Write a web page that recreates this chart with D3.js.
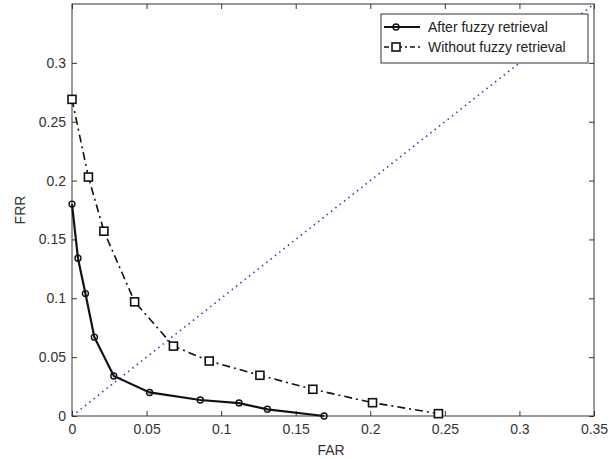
<!DOCTYPE html>
<html>
<head>
<meta charset="utf-8">
<script src="https://cdn.jsdelivr.net/npm/d3@7"></script>
<style>
  html, body { margin: 0; padding: 0; background: #fff; }
  svg { display: block; font-family: "Liberation Sans", Arial, sans-serif; }
</style>
</head>
<body>
<svg id="chart" width="609" height="459"></svg>
<script>
const X_TICKS = [0, 0.05, 0.1, 0.15, 0.2, 0.25, 0.3, 0.35];
const Y_TICKS = [0, 0.05, 0.1, 0.15, 0.2, 0.25, 0.3];

const AFTER_FAR = [0, 0.004, 0.009, 0.015, 0.028, 0.052, 0.086, 0.112, 0.131, 0.169];
const AFTER_FRR = [0.18, 0.134, 0.104, 0.067, 0.034, 0.020, 0.0136, 0.011, 0.0057, 0];

const WITHOUT_FAR = [0, 0.011, 0.0214, 0.042, 0.068, 0.092, 0.126, 0.1615, 0.2015, 0.2457];
const WITHOUT_FRR = [0.269, 0.203, 0.157, 0.097, 0.0594, 0.0467, 0.0346, 0.0227, 0.0113, 0.002];

const DIAG = [0, 0.35];

const SERIES_NAMES = ['After fuzzy retrieval', 'Without fuzzy retrieval'];

function drawChart() {
  const svg = d3.select('#chart');
  const mLeft = 72, mRight = 594, mTop = 4, mBottom = 416;

  const x = d3.scaleLinear().domain([0, 0.35]).range([mLeft, mRight]);
  const y = d3.scaleLinear().domain([0, 0.35]).range([mBottom, mTop]);

  const fmt = d => (d === 0 ? '0' : String(+d.toFixed(2)));
  const axisColor = '#333';

  // box
  svg.append('rect')
    .attr('x', mLeft).attr('y', mTop)
    .attr('width', mRight - mLeft).attr('height', mBottom - mTop)
    .attr('fill', 'none').attr('stroke', axisColor).attr('stroke-width', 1);

  // ticks, inward on all sides
  const xb = svg.append('g').attr('transform', `translate(0,${mBottom})`)
    .call(d3.axisBottom(x).tickValues(X_TICKS).tickFormat(fmt).tickSizeInner(-5).tickSizeOuter(0).tickPadding(8));
  const xt = svg.append('g').attr('transform', `translate(0,${mTop})`)
    .call(d3.axisTop(x).tickValues(X_TICKS).tickFormat('').tickSizeInner(-5).tickSizeOuter(0));
  const yl = svg.append('g').attr('transform', `translate(${mLeft},0)`)
    .call(d3.axisLeft(y).tickValues(Y_TICKS).tickFormat(fmt).tickSizeInner(-5).tickSizeOuter(0).tickPadding(6));
  const yr = svg.append('g').attr('transform', `translate(${mRight},0)`)
    .call(d3.axisRight(y).tickValues(Y_TICKS).tickFormat('').tickSizeInner(-5).tickSizeOuter(0));

  [xb, xt, yl, yr].forEach(g => {
    g.select('.domain').remove();
    g.selectAll('line').attr('stroke', axisColor);
    g.selectAll('text').attr('fill', '#333').attr('font-size', 14)
      .attr('font-family', '"Liberation Sans", Arial, sans-serif');
  });

  // axis labels
  svg.append('text').attr('x', 331).attr('y', 455)
    .attr('text-anchor', 'middle').attr('font-size', 14).attr('fill', '#333').text('FAR');
  svg.append('text').attr('transform', `translate(25,210) rotate(-90)`)
    .attr('text-anchor', 'middle').attr('font-size', 14).attr('fill', '#333').text('FRR');

  const plot = svg.append('g');

  // diagonal dotted
  plot.append('line')
    .attr('x1', x(DIAG[0])).attr('y1', y(DIAG[0]))
    .attr('x2', x(DIAG[1])).attr('y2', y(DIAG[1]))
    .attr('stroke', '#3a3ab8').attr('stroke-width', 1.6).attr('stroke-dasharray', '1.5,4');

  const line = d3.line().x(d => x(d[0])).y(d => y(d[1]));
  const afterPts = AFTER_FAR.map((v, i) => [v, AFTER_FRR[i]]);
  const withoutPts = WITHOUT_FAR.map((v, i) => [v, WITHOUT_FRR[i]]);

  plot.append('path').datum(withoutPts).attr('d', line)
    .attr('fill', 'none').attr('stroke', '#111').attr('stroke-width', 1.6)
    .attr('stroke-dasharray', '8,4,2,4');

  plot.selectAll('rect.sq').data(withoutPts).enter().append('rect')
    .attr('class', 'sq')
    .attr('x', d => x(d[0]) - 4).attr('y', d => y(d[1]) - 4)
    .attr('width', 8).attr('height', 8)
    .attr('fill', '#fff').attr('stroke', '#111').attr('stroke-width', 1.6);

  plot.append('path').datum(afterPts).attr('d', line)
    .attr('fill', 'none').attr('stroke', '#111').attr('stroke-width', 2.2);

  plot.selectAll('circle.pt').data(afterPts).enter().append('circle')
    .attr('class', 'pt')
    .attr('cx', d => x(d[0])).attr('cy', d => y(d[1])).attr('r', 3)
    .attr('fill', 'none').attr('stroke', '#111').attr('stroke-width', 1.4);

  // legend
  const lg = svg.append('g');
  lg.append('rect').attr('x', 381).attr('y', 14).attr('width', 207).attr('height', 49)
    .attr('fill', '#fff').attr('stroke', axisColor).attr('stroke-width', 1);

  SERIES_NAMES.forEach((name, i) => {
    const ly = 27 + i * 20;
    lg.append('line').attr('x1', 384).attr('x2', 420).attr('y1', ly).attr('y2', ly)
      .attr('stroke', '#111').attr('stroke-width', i === 0 ? 2.2 : 1.6)
      .attr('stroke-dasharray', i === 0 ? null : '5,3,2,3');
    if (i === 0) {
      lg.append('circle').attr('cx', 396).attr('cy', ly).attr('r', 3)
        .attr('fill', 'none').attr('stroke', '#111').attr('stroke-width', 1.4);
    } else {
      lg.append('rect').attr('x', 396 - 4).attr('y', ly - 4).attr('width', 8).attr('height', 8)
        .attr('fill', '#fff').attr('stroke', '#111').attr('stroke-width', 1.6);
    }
    lg.append('text').attr('x', 428).attr('y', ly + 5).attr('font-size', 14)
      .attr('fill', '#222').text(name);
  });
}

drawChart();
</script>
</body>
</html>
